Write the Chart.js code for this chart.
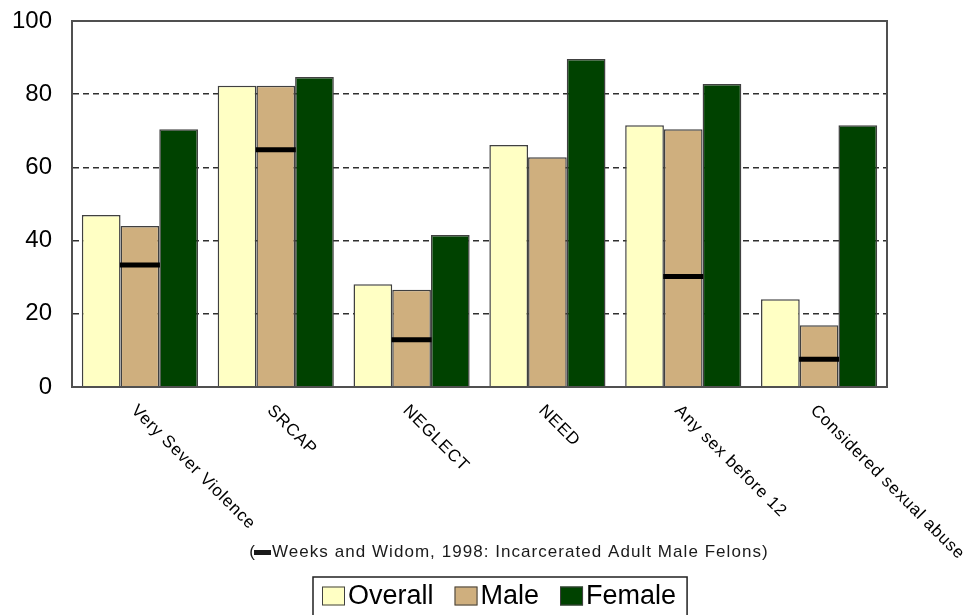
<!DOCTYPE html>
<html>
<head>
<meta charset="utf-8">
<script src="https://cdn.jsdelivr.net/npm/chart.js@4"></script>
<style>
  html, body { margin: 0; padding: 0; background: #ffffff; }
  #wrap { width: 967px; height: 615px; }
</style>
</head>
<body>
<div id="wrap"><canvas id="c" width="967" height="615"></canvas></div>
<script>
// Categories and series (percent)
const categories = ['Very Sever Violence', 'SRCAP', 'NEGLECT', 'NEED', 'Any sex before 12', 'Considered sexual abuse'];
const overall = [47, 82.3, 28.1, 66.1, 71.5, 24];
const male    = [44, 82.3, 26.6, 62.8, 70.4, 16.9];
const female  = [70.4, 84.7, 41.5, 89.6, 82.8, 71.5];
// Weeks and Widom, 1998: incarcerated adult male felons (no NEED value)
const felons  = [33.3, 64.8, 12.9, null, 30.2, 7.6];
const yTicks  = [0, 20, 40, 60, 80, 100];
const seriesNames = ['Overall', 'Male', 'Female'];
const noteText = 'Weeks and Widom, 1998: Incarcerated Adult Male Felons)';

const FONT = 'Arial, "Liberation Sans", Helvetica, sans-serif';
const EDGE = '#404040';

// Frame, slanted category labels, footnote and boxed legend
const decorations = {
  id: 'decorations',
  afterDatasetsDraw(chart) {
    const { ctx, chartArea: a } = chart;
    ctx.save();
    ctx.strokeStyle = '#505050';
    ctx.lineWidth = 2;
    ctx.strokeRect(a.left, a.top, a.right - a.left, a.bottom - a.top);
    ctx.restore();
  },
  afterDraw(chart) {
    const { ctx, chartArea: a, scales } = chart;
    const x = scales.x;
    ctx.save();
    // category labels, running down to the right
    ctx.fillStyle = '#000';
    ctx.font = '17px ' + FONT;
    ctx.letterSpacing = '0.8px';
    ctx.textAlign = 'left';
    ctx.textBaseline = 'top';
    categories.forEach((c, i) => {
      const px = x.getPixelForValue(i);
      ctx.save();
      ctx.translate(px, a.bottom + 15);
      ctx.rotate(Math.PI / 4);
      ctx.fillText(c, 0, 0);
      ctx.restore();
    });
    // footnote with the marker key
    ctx.font = '17px ' + FONT;
    ctx.letterSpacing = '1.05px';
    ctx.fillStyle = '#1a1a1a';
    ctx.textBaseline = 'middle';
    const ny = 552;
    const wP = ctx.measureText('(').width;
    const wT = ctx.measureText(noteText).width;
    const keyW = 17, gap = 1;
    const total = wP + keyW + gap + wT;
    let nx = 510 - total / 2;
    ctx.fillText('(', nx, ny);
    nx += wP - 2;
    ctx.fillRect(nx, ny - 2, keyW, 5);
    nx += keyW + gap;
    ctx.fillText(noteText, nx, ny);
    // legend: swatch + name, inside a box that runs off the bottom edge
    ctx.letterSpacing = '0px';
    ctx.font = '27px ' + FONT;
    ctx.fillStyle = '#000';
    const sw = 23, sh = 19, textGap = 3, itemGap = 21, pad = 9;
    const bars = chart.data.datasets.filter(d => seriesNames.includes(d.label));
    const widths = bars.map(d => sw + textGap + ctx.measureText(d.label).width);
    const legendW = widths.reduce((s, w) => s + w, 0) + itemGap * (bars.length - 1);
    const lLeft = 313, lTop = 577, ly = 596;
    ctx.strokeStyle = '#202020';
    ctx.lineWidth = 1.5;
    ctx.strokeRect(lLeft, lTop, legendW + pad + 11, 80);
    let lx = lLeft + pad;
    bars.forEach((d, i) => {
      ctx.fillStyle = d.backgroundColor;
      ctx.fillRect(lx, ly - sh / 2, sw, sh);
      ctx.strokeStyle = EDGE;
      ctx.lineWidth = 1;
      ctx.strokeRect(lx + 0.5, ly - sh / 2 + 0.5, sw - 1, sh - 1);
      ctx.fillStyle = '#000';
      ctx.textBaseline = 'middle';
      ctx.fillText(d.label, lx + sw + textGap, ly + 1);
      lx += widths[i] + itemGap;
    });
    ctx.restore();
  }
};

new Chart(document.getElementById('c'), {
  data: {
    labels: categories,
    datasets: [
      { type: 'line', label: 'Weeks and Widom, 1998', data: felons, showLine: false,
        pointStyle: 'line', pointRadius: 20, pointHoverRadius: 20,
        pointBorderColor: '#000', pointBorderWidth: 5, order: 0 },
      { type: 'bar', label: seriesNames[0], data: overall, backgroundColor: '#FFFFC4',
        borderColor: EDGE, borderWidth: 1.5, order: 1 },
      { type: 'bar', label: seriesNames[1], data: male, backgroundColor: '#CFAF7E',
        borderColor: EDGE, borderWidth: 1.5, order: 1 },
      { type: 'bar', label: seriesNames[2], data: female, backgroundColor: '#004200',
        borderColor: EDGE, borderWidth: 1.5, order: 1 }
    ]
  },
  options: {
    responsive: false,
    animation: false,
    devicePixelRatio: 1,
    layout: { autoPadding: false, padding: { left: 12, right: 80, top: 21, bottom: 0 } },
    datasets: { bar: { categoryPercentage: 0.855, barPercentage: 1.0 } },
    scales: {
      x: {
        grid: { display: false, drawTicks: false },
        border: { display: true, color: '#505050', width: 2 },
        ticks: { display: false },
        afterFit(scale) { scale.height = 228; }
      },
      y: {
        min: 0, max: 100,
        afterBuildTicks(scale) { scale.ticks = yTicks.map(v => ({ value: v })); },
        afterFit(scale) { scale.width = 60; scale.paddingTop = 0; scale.paddingBottom = 0; },
        grid: {
          drawTicks: false,
          color: ctx => (ctx.tick && (ctx.tick.value === 0 || ctx.tick.value === 100)) ? 'rgba(0,0,0,0)' : '#303030',
          lineWidth: 1.5
        },
        border: { display: true, color: '#505050', width: 2, dash: [6, 4] },
        ticks: { padding: 20, color: '#000', font: { family: FONT, size: 24 } }
      }
    },
    plugins: {
      tooltip: { enabled: false },
      legend: { display: false }
    }
  },
  plugins: [decorations]
});
</script>
</body>
</html>
